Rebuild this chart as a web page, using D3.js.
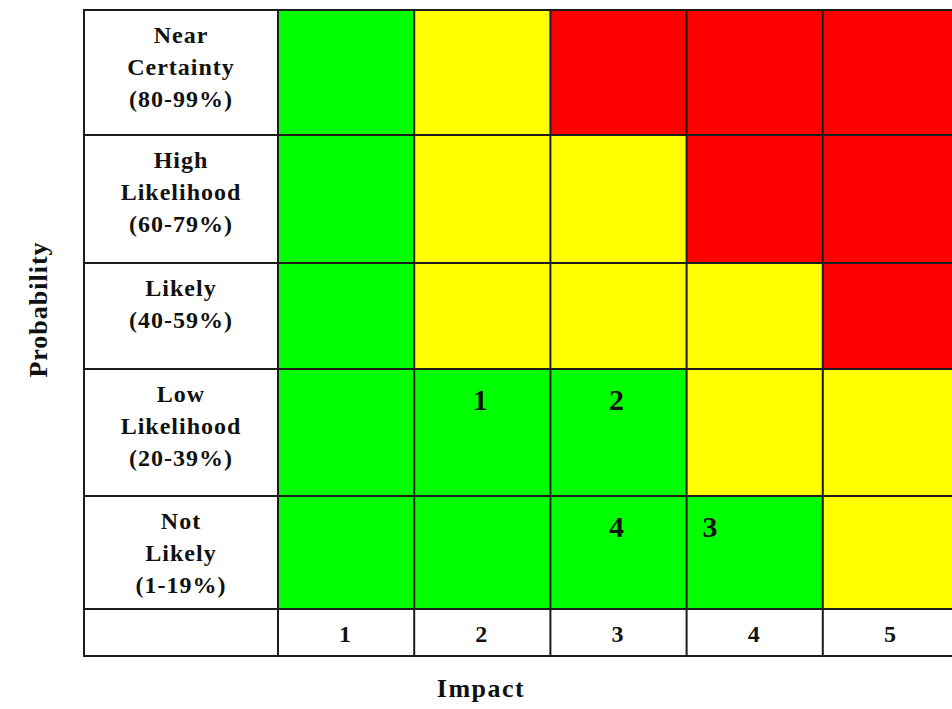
<!DOCTYPE html>
<html>
<head>
<meta charset="utf-8">
<script src="https://cdn.jsdelivr.net/npm/d3@7"></script>
<style>
  html, body { margin: 0; padding: 0; background: #fff; }
  svg text { font-family: "Liberation Serif", "Times New Roman", serif; font-weight: bold; fill: #111; }
</style>
</head>
<body>
<svg id="chart" width="952" height="709"></svg>
<script>
// Impact levels along the bottom row
const impactLevels = [1, 2, 3, 4, 5];

// Probability levels, top to bottom, each split into its printed lines
const probabilityLevels = [
  ["Near", "Certainty", "(80-99%)"],
  ["High", "Likelihood", "(60-79%)"],
  ["Likely", "(40-59%)"],
  ["Low", "Likelihood", "(20-39%)"],
  ["Not", "Likely", "(1-19%)"]
];

// Risk rating of each cell: rows follow probabilityLevels, columns follow impactLevels
const riskGrid = [
  ["low", "medium", "high", "high", "high"],
  ["low", "medium", "medium", "high", "high"],
  ["low", "medium", "medium", "medium", "high"],
  ["low", "low", "low", "medium", "medium"],
  ["low", "low", "low", "low", "medium"]
];

// Numbered risks: impact level and probability row
const riskItems = [
  { id: "1", impact: 2, probability: 3 },
  { id: "2", impact: 3, probability: 3 },
  { id: "3", impact: 4, probability: 4 },
  { id: "4", impact: 3, probability: 4 }
];

const ratingColor = d3.scaleOrdinal()
  .domain(["low", "medium", "high"])
  .range(["#00ff00", "#ffff00", "#ff0000"]);

const svg = d3.select("#chart");

const tableLeft = 84, labelRight = 278, tableRight = 959;

// Columns: impact levels share the space right of the label column
const x = d3.scaleBand().domain(impactLevels).range([labelRight, tableRight]);

// Rows: five probability rows then the impact header row (uneven heights)
const rowEdge = d3.scaleLinear()
  .domain([0, 1, 2, 3, 4, 5, 6])
  .range([10, 135, 263, 369, 496, 609, 656]);

const g = svg.append("g");

// white background for label column and header row
g.append("rect")
  .attr("x", tableLeft).attr("y", rowEdge(0))
  .attr("width", tableRight - tableLeft).attr("height", rowEdge(6) - rowEdge(0))
  .attr("fill", "#fff");

// colored risk cells
const cells = [];
riskGrid.forEach((row, r) => row.forEach((rating, c) => cells.push({ r, c, rating })));
g.selectAll("rect.cell")
  .data(cells)
  .join("rect")
  .attr("class", "cell")
  .attr("x", d => x(impactLevels[d.c]))
  .attr("y", d => rowEdge(d.r))
  .attr("width", x.bandwidth())
  .attr("height", d => rowEdge(d.r + 1) - rowEdge(d.r))
  .attr("fill", d => ratingColor(d.rating));

// grid lines
const lineColor = "#1c1c1c";
const hEdges = d3.range(0, 7);
g.selectAll("line.h")
  .data(hEdges)
  .join("line")
  .attr("x1", tableLeft).attr("x2", tableRight)
  .attr("y1", d => rowEdge(d)).attr("y2", d => rowEdge(d))
  .attr("stroke", lineColor).attr("stroke-width", 2);

const vEdges = [tableLeft, labelRight].concat(impactLevels.map(v => x(v) + x.bandwidth()));
g.selectAll("line.v")
  .data(vEdges)
  .join("line")
  .attr("x1", d => d).attr("x2", d => d)
  .attr("y1", rowEdge(0) - 1).attr("y2", rowEdge(6) + 1)
  .attr("stroke", lineColor).attr("stroke-width", 2);

// probability row labels
const labelCenter = (tableLeft + labelRight) / 2;
probabilityLevels.forEach((lines, r) => {
  const t = g.append("text")
    .attr("text-anchor", "middle")
    .attr("font-size", 24)
    .attr("letter-spacing", 1);
  lines.forEach((line, i) => {
    t.append("tspan")
      .attr("x", labelCenter)
      .attr("y", rowEdge(r) + 33 + i * 32)
      .text(line);
  });
});

// impact header numbers
g.selectAll("text.impact")
  .data(impactLevels)
  .join("text")
  .attr("class", "impact")
  .attr("x", d => x(d) + x.bandwidth() / 2 - 1)
  .attr("y", (rowEdge(5) + rowEdge(6)) / 2 + 9)
  .attr("text-anchor", "middle")
  .attr("font-size", 24)
  .text(d => d);

// numbered risks placed in their cells
const leftAligned = new Set(["3"]);
g.selectAll("text.risk")
  .data(riskItems)
  .join("text")
  .attr("class", "risk")
  .attr("x", d => leftAligned.has(d.id) ? x(d.impact) + 16 : x(d.impact) + x.bandwidth() / 2 - 2)
  .attr("y", d => rowEdge(d.probability) + 41)
  .attr("text-anchor", d => leftAligned.has(d.id) ? "start" : "middle")
  .attr("font-size", 30)
  .text(d => d.id);

// axis titles
svg.append("text")
  .attr("transform", `translate(47, ${(rowEdge(0) + rowEdge(5)) / 2}) rotate(-90)`)
  .attr("text-anchor", "middle")
  .attr("font-size", 26)
  .attr("letter-spacing", 1)
  .text("Probability");

svg.append("text")
  .attr("x", 481)
  .attr("y", 697)
  .attr("text-anchor", "middle")
  .attr("font-size", 26)
  .attr("letter-spacing", 1.5)
  .text("Impact");
</script>
</body>
</html>
